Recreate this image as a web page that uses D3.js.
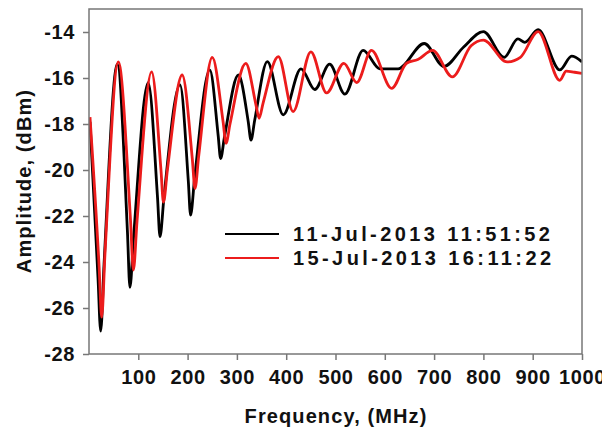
<!DOCTYPE html>
<html>
<head>
<meta charset="utf-8">
<script src="https://cdn.jsdelivr.net/npm/d3@7"></script>
<style>
  body { margin: 0; background: #fff; }
  text { font-family: "Liberation Sans", Arial, sans-serif; font-weight: bold; fill: #111; }
</style>
</head>
<body>
<svg id="chart"></svg>
<script>
// frequency (MHz) / amplitude (dBm)
const freqBlack = [2, 18.3, 23.7, 30.5, 57.4, 78, 83, 90.5, 120, 139, 144, 152, 184.6, 201.5, 206, 214, 245, 262, 267, 274.5, 303, 323, 328.6, 336, 361.7, 394, 430, 458, 488, 519, 556, 590, 627, 680, 720, 760, 800, 842, 870, 884, 911, 955, 979, 1000]
const ampBlack = [-17.9, -24.7, -27.0, -24.1, -15.4, -22.7, -25.1, -22.9, -16.2, -21.2, -22.9, -21.2, -16.3, -20.5, -21.96, -20.4, -15.65, -18.5, -19.5, -18.6, -15.87, -17.9, -18.7, -17.85, -15.29, -17.6, -15.6, -16.5, -15.4, -16.7, -14.8, -15.6, -15.6, -14.5, -15.5, -14.65, -13.98, -15.1, -14.3, -14.45, -13.9, -15.65, -15.05, -15.3]

const freqRed = [2, 20.5, 25.7, 32.5, 59.5, 84, 90, 97.5, 127, 146, 151, 159, 189, 209.5, 215, 222.5, 250, 272, 278, 286, 318, 339, 345, 353, 384, 414, 450, 482, 517, 543, 573, 614, 644, 667, 697, 737, 775, 800, 848, 875, 911, 955, 968, 985, 1000]
const ampRed = [-17.7, -24.2, -26.4, -23.6, -15.3, -22.1, -24.35, -22.2, -15.73, -20.0, -21.4, -20.0, -15.87, -19.5, -20.8, -19.4, -15.1, -17.9, -18.84, -18.0, -15.36, -17.2, -17.75, -17.1, -15.07, -17.46, -14.86, -16.65, -15.36, -16.2, -14.8, -16.45, -15.36, -15.2, -14.8, -15.95, -14.6, -14.35, -15.3, -15.1, -13.98, -16.1, -15.7, -15.75, -15.8]

const xTicks = [100, 200, 300, 400, 500, 600, 700, 800, 900, 1000]
const yTicks = [-14, -16, -18, -20, -22, -24, -26, -28]
const seriesNames = ["11-Jul-2013 11:51:52", "15-Jul-2013 16:11:22"]
const seriesColors = ["#000000", "#ec1c1c"]

const W = 602, H = 431
const margin = { top: 9, right: 20, bottom: 77, left: 89 },
  width = W - margin.left - margin.right,
  height = H - margin.top - margin.bottom

const svg = d3.select("#chart").attr("width", W).attr("height", H)

const x = d3.scaleLinear().domain([0, 1000]).range([0, width])
const y = d3.scaleLinear().domain([-28, -13]).range([height, 0])

const g = svg.append("g").attr("transform", `translate(${margin.left}, ${margin.top})`)

g.append("clipPath").attr("id", "clip")
  .append("rect").attr("width", width).attr("height", height)

const series = [
  freqBlack.map((f, i) => [f, ampBlack[i]]),
  freqRed.map((f, i) => [f, ampRed[i]]),
]

const line = d3.line()
  .x(d => x(d[0]))
  .y(d => y(d[1]))
  .curve(d3.curveMonotoneX)

g.append("g")
  .attr("clip-path", "url(#clip)")
  .selectAll("path")
  .data(series)
  .join("path")
  .attr("d", line)
  .attr("fill", "none")
  .attr("stroke", (d, i) => seriesColors[i])
  .attr("stroke-width", 2.8)
  .attr("stroke-linejoin", "round")

// axes, plain hyphen minus like the original
const xAxis = g.append("g")
  .attr("transform", `translate(0, ${height})`)
  .call(d3.axisBottom(x).tickValues(xTicks).tickFormat(d => String(d)).tickSize(6).tickPadding(10))
const yAxis = g.append("g")
  .call(d3.axisLeft(y).tickValues(yTicks).tickFormat(d => String(d)).tickSize(6).tickPadding(8))

for (const ax of [xAxis, yAxis]) {
  ax.select(".domain").remove()
  ax.selectAll("line").attr("stroke", "#777").attr("stroke-width", 1.5)
  ax.selectAll("text")
    .style("font-size", "20px")
    .style("letter-spacing", "0.6px")
    .attr("fill", "#111")
}

// frame
g.append("rect")
  .attr("width", width)
  .attr("height", height)
  .attr("fill", "none")
  .attr("stroke", "#777")
  .attr("stroke-width", 1.5)

// axis titles
svg.append("text")
  .attr("x", 336)
  .attr("y", 423)
  .attr("text-anchor", "middle")
  .style("font-size", "20px")
  .style("letter-spacing", "1.1px")
  .text("Frequency, (MHz)")

svg.append("text")
  .attr("transform", "translate(31, 181) rotate(-90)")
  .attr("text-anchor", "middle")
  .style("font-size", "20px")
  .style("letter-spacing", "1.1px")
  .text("Amplitude, (dBm)")

// legend
const legend = svg.append("g").attr("transform", "translate(225, 234)")
const items = legend.selectAll("g")
  .data(seriesNames)
  .join("g")
  .attr("transform", (d, i) => `translate(0, ${i * 24})`)
items.append("line")
  .attr("x1", 0).attr("x2", 54)
  .attr("stroke", (d, i) => seriesColors[i])
  .attr("stroke-width", 2)
items.append("text")
  .attr("x", 68)
  .attr("dy", "0.36em")
  .style("font-size", "20px")
  .style("letter-spacing", "3.4px")
  .text(d => d)
</script>
</body>
</html>
